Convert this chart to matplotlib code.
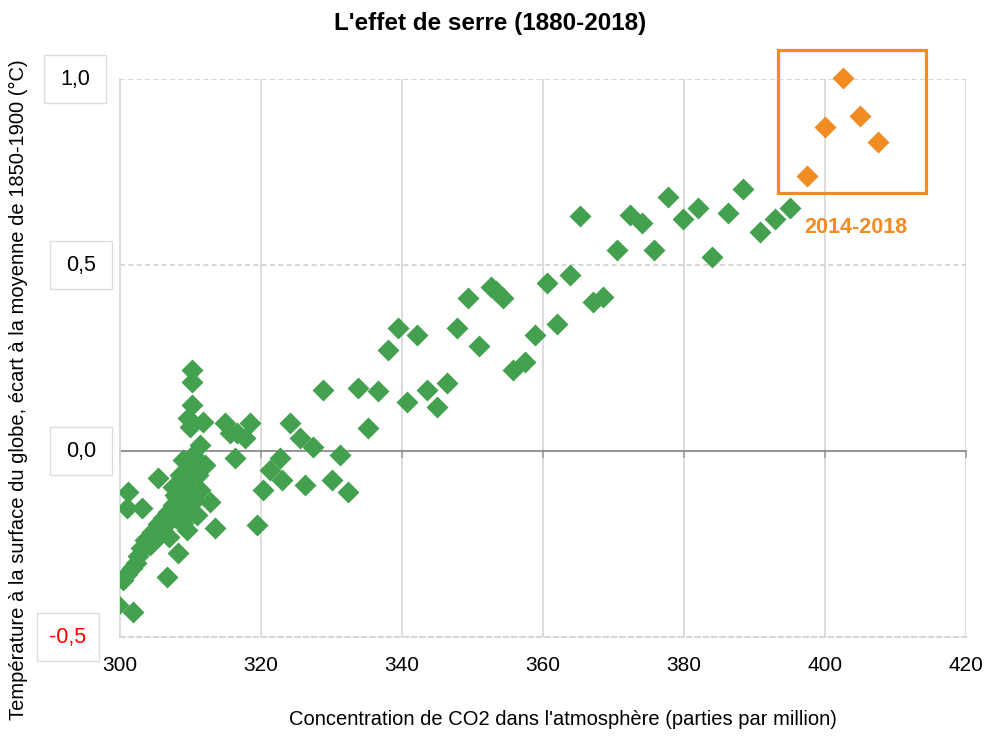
import matplotlib
matplotlib.use("Agg")
import matplotlib.pyplot as plt
import matplotlib.transforms as mtransforms
from matplotlib.patches import Rectangle

# ========================= Fonts =========================#
plt.rcParams["font.family"] = ["Liberation Sans", "DejaVu Sans"]

# ========================= Data =========================#
# CO2 (ppm) vs temperature anomaly (deg C), 1880-2013
co2_green = [
    299.7, 301.8, 300.4, 301.0, 301.7, 302.6, 303.0, 303.5, 304.5, 305.4,
    306.1, 306.8, 307.5, 308.1, 308.7, 309.2, 309.6, 310.2, 310.6, 308.5,
    301.1, 301.0, 303.1, 305.4, 307.5, 312.8, 313.5, 308.2, 306.7, 308.9,
    309.9, 310.6, 311.3, 309.5, 304.3, 305.7, 307.1, 310.2, 310.2, 310.2,
    309.6, 309.9, 311.8, 311.3, 310.4, 314.9, 315.6, 318.4, 317.7, 316.6,
    316.3, 311.1, 312.1, 308.9, 307.8, 310.9, 302.2, 304.0, 306.4, 309.0,
    324.1, 325.5, 327.4, 331.2, 322.7, 323.0, 326.2, 330.1, 332.3, 321.3,
    320.3, 319.4, 339.4, 342.1, 338.0, 328.8, 333.8, 336.6, 340.7, 343.5,
    346.4, 345.0, 335.2, 347.8, 349.3, 350.9, 352.6, 353.4, 354.3, 360.6,
    363.8, 355.7, 357.4, 358.9, 362.0, 367.1, 368.5, 365.2, 370.5, 372.3,
    374.0, 375.7, 377.7, 379.9, 382.0, 384.0, 386.2, 388.4, 390.8, 392.9,
    395.0, 307.0, 308.0, 309.3, 310.0,
]
temp_green = [
    -0.414, -0.433, -0.347, -0.331, -0.315, -0.282, -0.261, -0.239, -0.218, -0.196,
    -0.180, -0.164, -0.145, -0.126, -0.105, -0.086, -0.067, -0.046, -0.024, -0.065,
    -0.110, -0.153, -0.153, -0.073, -0.097, -0.137, -0.207, -0.274, -0.339, -0.194,
    -0.159, -0.132, -0.105, -0.212, -0.253, -0.226, -0.185, 0.218, 0.185, 0.124,
    0.089, 0.065, 0.078, 0.016, -0.011, 0.075, 0.048, 0.075, 0.035, 0.048,
    -0.019, -0.065, -0.038, -0.024, -0.118, -0.172, -0.300, -0.250, -0.200, -0.150,
    0.075, 0.035, 0.011, -0.011, -0.019, -0.078, -0.091, -0.078, -0.110, -0.051,
    -0.105, -0.199, 0.331, 0.312, 0.272, 0.164, 0.169, 0.161, 0.132, 0.164,
    0.183, 0.118, 0.062, 0.331, 0.412, 0.282, 0.440, 0.430, 0.411, 0.452,
    0.473, 0.218, 0.239, 0.312, 0.341, 0.401, 0.414, 0.632, 0.540, 0.634,
    0.613, 0.540, 0.683, 0.624, 0.653, 0.522, 0.640, 0.704, 0.589, 0.624,
    0.653, -0.230, -0.180, -0.170, -0.110,
]

# 2014-2018
co2_orange = [397.4, 400.0, 402.6, 405.0, 407.5]
temp_orange = [0.739, 0.871, 1.003, 0.900, 0.830]

x_ticks = [300, 320, 340, 360, 380, 400, 420]
y_ticks = [1.0, 0.5, 0.0, -0.5]
y_tick_labels = ["1,0", "0,5", "0,0", "-0,5"]
y_tick_colors = ["black", "black", "black", "red"]

green = "#43a04f"
orange = "#f08c23"

# ========================= Figure =========================#
fig = plt.figure(figsize=(9.86, 7.36), dpi=100)
ax = fig.add_axes([120 / 986, 99 / 736, 846 / 986, 558 / 736])
ax.set_xlim(300, 420)
ax.set_ylim(-0.5, 1.0)

# grid
for x in x_ticks[1:]:
    ax.axvline(x, color="#d9d9d9", lw=1.3, zorder=0)
for y in [0.5, 1.0]:
    ax.axhline(y, color="#cfcfcf", lw=1.2, ls=(0, (3, 2)), zorder=0)

for side in ["top", "right"]:
    ax.spines[side].set_visible(False)
ax.spines["left"].set_color("#d9d9d9")
ax.spines["left"].set_linewidth(1.3)
ax.spines["bottom"].set_color("#cfcfcf")
ax.spines["bottom"].set_linewidth(1.2)
ax.spines["bottom"].set_linestyle((0, (3, 2)))

ax.set_xticks(x_ticks)
ax.set_xticklabels([str(v) for v in x_ticks], fontsize=15)
ax.tick_params(axis="x", length=0, pad=14)
ax.set_yticks([])

# zero line with small ticks
zero_ax = ax.secondary_xaxis(1 / 3)
zero_ax.set_xticks(x_ticks)
zero_ax.set_xticklabels([])
zero_ax.spines["bottom"].set_color("#808080")
zero_ax.spines["bottom"].set_linewidth(1.2)
zero_ax.tick_params(axis="x", direction="out", length=5, color="#a0a0a0", width=1.2)

# points
ax.plot(co2_green, temp_green, "D", ms=11.7, color=green, mec="none",
        ls="none", zorder=3)
ax.plot(co2_orange, temp_orange, "D", ms=11.7, color=orange, mec="none",
        ls="none", zorder=3, clip_on=False)

# highlight box
ax.add_patch(Rectangle((393.3, 0.694), 21.0, 0.385, fill=False, ec=orange,
                       lw=2.3, clip_on=False, zorder=4))
ax.text(404.3, 0.602, "2014-2018", color=orange, fontsize=15.5,
        fontweight="bold", ha="center", va="center")

# boxed y tick labels
blend = mtransforms.blended_transform_factory(fig.transFigure, ax.transData)
box_centers = [75, 81, 81, 68]
for y, lab, c, xc in zip(y_ticks, y_tick_labels, y_tick_colors, box_centers):
    fig.add_artist(Rectangle(((xc - 31) / 986, y - 0.064), 62 / 986, 0.128,
                             transform=blend, fc="white", ec="#dddddd", lw=1))
    fig.text(xc / 986, y, lab, transform=blend, fontsize=15.5, color=c,
             ha="center", va="center")

# titles
fig.text(0.497, 0.968, "L'effet de serre (1880-2018)", fontsize=17.5,
         fontweight="bold", ha="center", va="center")
fig.text(0.571, 0.022,
         "Concentration de CO2 dans l'atmosphère (parties par million)",
         fontsize=14.5, ha="center", va="center")
fig.text(0.019, 0.47,
         "Température à la surface du globe, écart à la moyenne de 1850-1900 (°C)",
         fontsize=14.5, ha="center", va="center", rotation=90)

fig.savefig("out.png", dpi=100)
